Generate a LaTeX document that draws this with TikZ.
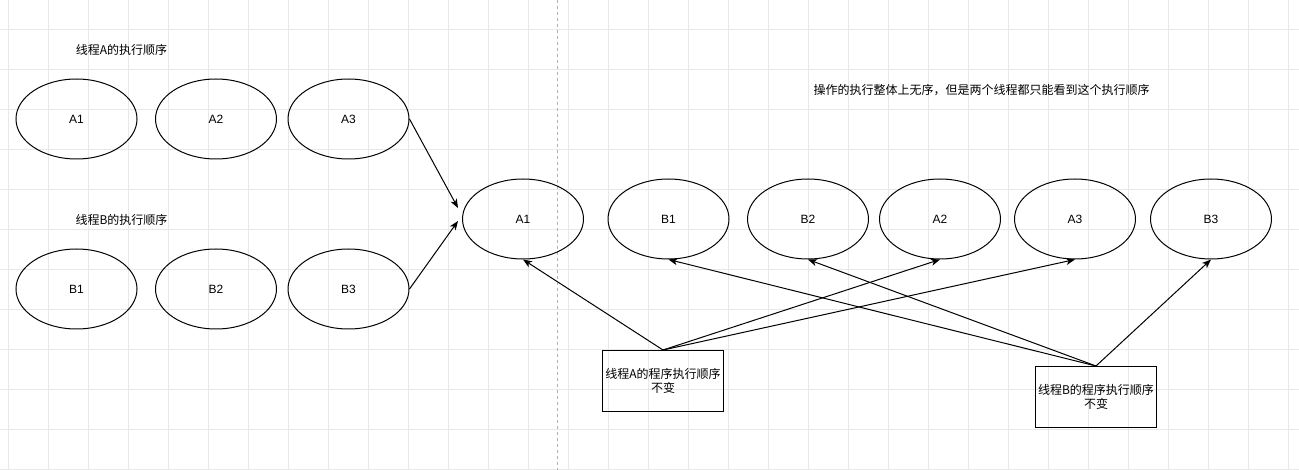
\documentclass[tikz,border=0pt]{standalone}
\usepackage{fontspec}
\setmainfont{Liberation Sans}
\newfontfamily\cjk{Noto Sans CJK SC}
\usetikzlibrary{shapes.geometric,arrows.meta}
\begin{document}
\begin{tikzpicture}[x=1pt,y=-1pt,
  oval/.style={ellipse,draw,line width=1pt,minimum width=121pt,minimum height=80pt,inner sep=0pt,font=\fontsize{12}{14}\selectfont},
  lbl/.style={font=\cjk\fontsize{12}{14}\selectfont,inner sep=0pt},
  note/.style={draw,line width=1pt,minimum width=121pt,minimum height=61pt,align=center,inner sep=0pt,font=\cjk\fontsize{12}{14}\selectfont},
  arr/.style={line width=1pt,-{Stealth[length=9pt,width=7pt,inset=2.5pt]}},
  gridline/.style={draw=black!9,line width=0.8pt}]
\useasboundingbox (0,0) rectangle (1299,470);
\fill[white] (0,0) rectangle (1299,470);
\foreach \x in {8,48,...,1288} \draw[gridline] (\x,0) -- (\x,470);
\foreach \y in {29,69,...,469} \draw[gridline] (0,\y) -- (1299,\y);
\draw[black!30,dashed,line width=0.8pt] (557,0) -- (557,470);

\node[lbl] (la) at (121.5,50) {线程A的执行顺序};
\node[lbl] (lb) at (121.5,220) {线程B的执行顺序};
\node[lbl] (lm) at (981.5,90) {操作的执行整体上无序，但是两个线程都只能看到这个执行顺序};

\node[oval] (a1) at (76.5,119) {A1};
\node[oval] (a2) at (216,119) {A2};
\node[oval] (a3) at (348.5,119) {A3};
\node[oval] (b1) at (76.5,289) {B1};
\node[oval] (b2) at (216,289) {B2};
\node[oval] (b3) at (348.5,289) {B3};

\node[oval] (ma1) at (523,219) {A1};
\node[oval] (mb1) at (668.5,219) {B1};
\node[oval] (mb2) at (808,219) {B2};
\node[oval] (ma2) at (940,219) {A2};
\node[oval] (ma3) at (1075,219) {A3};
\node[oval] (mb3) at (1211,219) {B3};

\node[note] (na) at (663,381) {线程A的程序执行顺序\\不变};
\node[note] (nb) at (1096,397) {线程B的程序执行顺序\\不变};

\coordinate (ta) at (458,208);
\coordinate (tb) at (458,221);
\draw[arr] (a3.east) -- (ta);
\draw[arr] (b3.east) -- (tb);

\draw[arr] (na.north) -- (ma1.south);
\draw[arr] (na.north) -- (ma2.south);
\draw[arr] (na.north) -- (ma3.south);
\draw[arr] (nb.north) -- (mb1.south);
\draw[arr] (nb.north) -- (mb2.south);
\draw[arr] (nb.north) -- (mb3.south);
\end{tikzpicture}
\end{document}
